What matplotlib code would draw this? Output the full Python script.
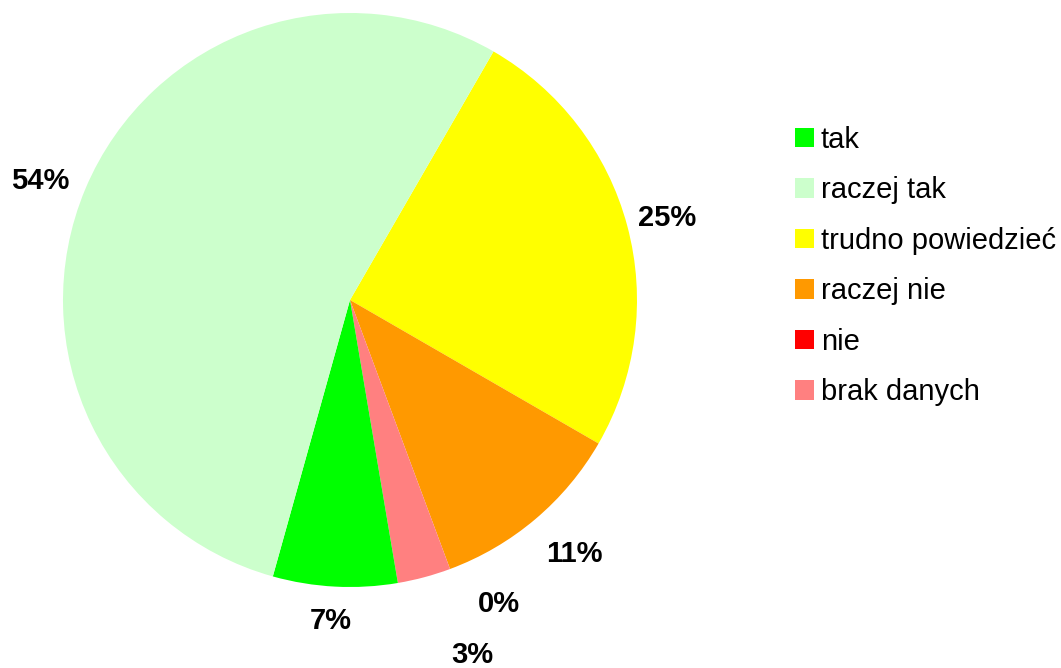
import numpy as np
import matplotlib
matplotlib.use("Agg")
import matplotlib.pyplot as plt
from matplotlib.patches import Rectangle

plt.rcParams['font.family'] = ['Liberation Sans', 'DejaVu Sans']

categories = ["tak", "raczej tak", "trudno powiedzieć", "raczej nie", "nie", "brak danych"]
values = [7, 54, 25, 11, 0, 3]
colors = ["#00ff00", "#ccffcc", "#ffff00", "#ff9900", "#ff0000", "#ff8080"]

# order of wedges clockwise starting at 60 degrees
draw_order = [2, 3, 4, 5, 0, 1]
# label placement tweaks (radius factor, angle shift in degrees) per category
label_r = [1.12, 1.155, 1.14, 1.18, 1.18, 1.31]
label_shift = [-0.4, 1.8, -0.5, 1.3, 5.6, 4.0]

W, H = 1061, 668
fig = plt.figure(figsize=(W / 100, H / 100), dpi=100)
cx, cy, R = 350, 300, 287
ax = fig.add_axes([(cx - R) / W, (H - cy - R) / H, 2 * R / W, 2 * R / H])

vals = [values[i] for i in draw_order]
cols = [colors[i] for i in draw_order]
wedges, _ = ax.pie(vals, colors=cols, startangle=60, counterclock=False,
                   radius=1, wedgeprops=dict(linewidth=0))
ax.set_xlim(-1, 1)
ax.set_ylim(-1, 1)
ax.set_aspect('equal')
ax.axis('off')

for w, idx in zip(wedges, draw_order):
    mid = np.deg2rad((w.theta1 + w.theta2) / 2 + label_shift[idx])
    r = label_r[idx]
    ax.text(r * np.cos(mid), r * np.sin(mid), f"{values[idx]}%",
            ha='center', va='center', fontsize=21, fontweight='bold',
            clip_on=False)

handles = [Rectangle((0, 0), 1, 1, facecolor=c, edgecolor='none') for c in colors]
fig.legend(handles, categories, loc='upper left',
           bbox_to_anchor=(795 / W, 1 - 126 / H), frameon=False,
           fontsize=21, handlelength=0.65, handleheight=0.65,
           handletextpad=0.24, labelspacing=0.77, borderpad=0,
           borderaxespad=0)

fig.savefig("out.png", dpi=100)
